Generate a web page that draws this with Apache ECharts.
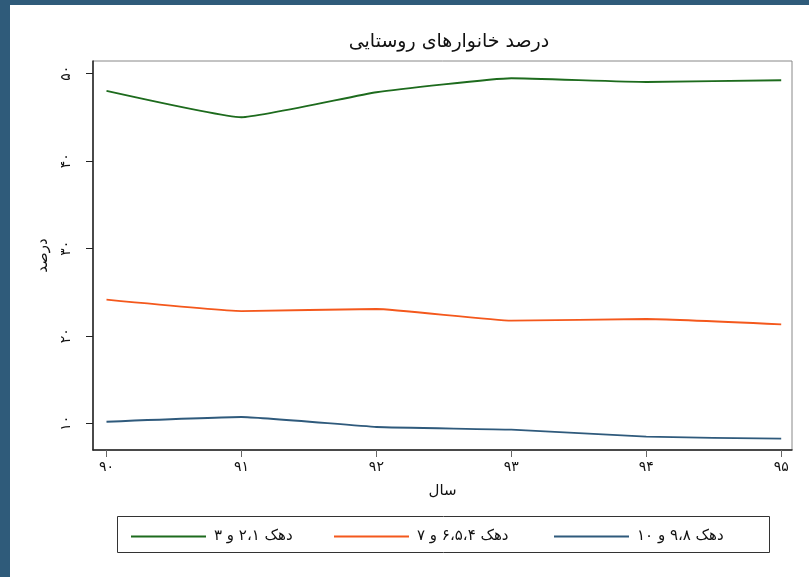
<!DOCTYPE html>
<html>
<head>
<meta charset="utf-8">
<script src="https://cdn.jsdelivr.net/npm/echarts@6/dist/echarts.min.js"></script>
<style>
  html, body { margin: 0; padding: 0; background: #2f5b7a; }
  #main { position: absolute; left: 10px; top: 5px; width: 799px; height: 572px; background: #fff; }
</style>
</head>
<body>
<div id="main"></div>
<script>
// سال‌ها و برچسب‌ها
var years = [90, 91, 92, 93, 94, 95];
var xTickLabels = ['۹۰', '۹۱', '۹۲', '۹۳', '۹۴', '۹۵'];
var yTicks = [10, 20, 30, 40, 50];
var yTickLabels = ['۱۰', '۲۰', '۳۰', '۴۰', '۵۰'];
var seriesNames = [
  'دهک ۱،\u200F۲ و ۳',
  'دهک ۴،\u200F۵،\u200F۶ و ۷',
  'دهک ۸،\u200F۹ و ۱۰'
];
// درصد خانوارها در هر گروه دهکی
var dahak123 = [47.98, 44.97, 47.83, 49.43, 49.0, 49.2];
var dahak4567 = [24.13, 22.83, 23.06, 21.73, 21.92, 21.31];
var dahak8910 = [10.18, 10.72, 9.58, 9.27, 8.47, 8.24];
var colors = ['#1d6b1d', '#f4581c', '#2f5a7c'];

var font = 'DejaVu Sans';
var legendLefts = [116, 319, 539];

function pairs(vals) {
  return years.map(function(y, i) {
    return [y, vals[i]];
  });
}

function makeSeries(name, vals, color) {
  return {
    name: name,
    type: 'line',
    data: pairs(vals),
    symbol: 'none',
    smooth: 0.12,
    lineStyle: { color: color, width: 1.8 },
    itemStyle: { color: color }
  };
}

// یک لژاند جدا برای هر سری تا جای هر کدام ثابت بماند
var legends = seriesNames.map(function(n, i) {
  return {
    left: legendLefts[i],
    top: 519,
    icon: 'rect',
    itemWidth: 75,
    itemHeight: 2,
    data: [n],
    textStyle: { fontFamily: font, fontSize: 15, color: '#111', padding: [0, 0, 0, 3] }
  };
});

var myChart = echarts.init(document.getElementById('main'));

var option = {
  animation: false,
  title: {
    text: 'درصد خانوارهای روستایی',
    left: 434,
    top: 23,
    textAlign: 'center',
    textStyle: { fontFamily: font, fontSize: 19, fontWeight: 'normal', color: '#111' }
  },
  grid: {
    left: 83,
    top: 56,
    width: 699,
    height: 389,
    show: true,
    borderColor: '#888',
    borderWidth: 1
  },
  xAxis: {
    type: 'value',
    min: 89.9,
    max: 95.08,
    name: 'سال',
    nameLocation: 'middle',
    nameGap: 34,
    nameTextStyle: { fontFamily: font, fontSize: 15, color: '#111' },
    axisLine: { show: true, lineStyle: { color: '#222', width: 1.5 } },
    axisTick: { show: true, length: 7, customValues: years, lineStyle: { color: '#666' } },
    axisLabel: {
      customValues: years,
      margin: 10,
      fontFamily: font,
      fontSize: 14,
      color: '#111',
      formatter: function(v) {
        return xTickLabels[years.indexOf(Math.round(v))];
      }
    },
    splitLine: { show: false }
  },
  yAxis: {
    type: 'value',
    min: 6.95,
    max: 51.4,
    name: 'درصد',
    nameLocation: 'middle',
    nameGap: 42,
    nameTextStyle: { fontFamily: font, fontSize: 15, color: '#111' },
    axisLine: { show: true, lineStyle: { color: '#222', width: 1.5 } },
    axisTick: { show: true, length: 7, customValues: yTicks, lineStyle: { color: '#222' } },
    axisLabel: {
      customValues: yTicks,
      rotate: 90,
      margin: 20,
      fontFamily: font,
      fontSize: 14,
      color: '#111',
      formatter: function(v) {
        return yTickLabels[yTicks.indexOf(Math.round(v))];
      }
    },
    splitLine: { show: false }
  },
  legend: legends,
  graphic: [
    {
      type: 'rect',
      shape: { x: 107.5, y: 511.5, width: 652, height: 36 },
      style: { fill: 'none', stroke: '#333', lineWidth: 1 },
      silent: true
    }
  ],
  series: [
    makeSeries(seriesNames[0], dahak123, colors[0]),
    makeSeries(seriesNames[1], dahak4567, colors[1]),
    makeSeries(seriesNames[2], dahak8910, colors[2])
  ]
};

myChart.setOption(option);
</script>
</body>
</html>
